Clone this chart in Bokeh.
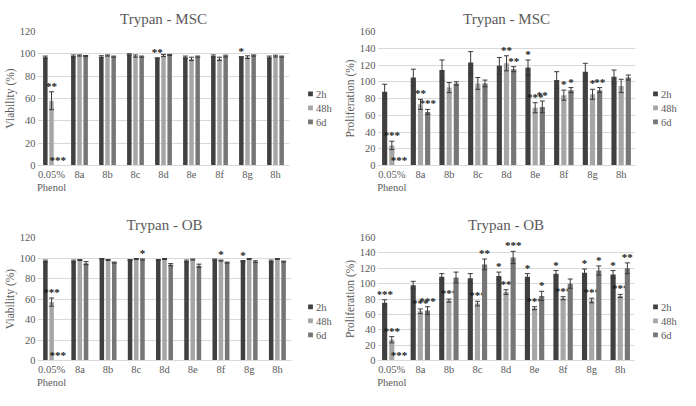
from bokeh.plotting import figure
from bokeh.models import (ColumnDataSource, FactorRange, Range1d, Whisker, TeeHead,
                          Legend, LegendItem, SingleIntervalTicker, Spacer)
from bokeh.transform import dodge
from bokeh.layouts import column, row
from bokeh.embed import file_html
from bokeh.resources import INLINE
from bokeh.core.properties import value

categories = ["0.05%\nPhenol", "8a", "8b", "8c", "8d", "8e", "8f", "8g", "8h"]
series = ["2h", "48h", "6d"]
colors = ["#404040", "#a6a6a6", "#767676"]

# Trypan - MSC, viability (%)
msc_via_2h = [97, 98, 97.5, 99.5, 96, 97, 98, 97, 97]
msc_via_48h = [58, 98.5, 98.5, 98, 98.5, 95.5, 95.5, 97, 98]
msc_via_6d = [0, 98, 97.5, 97.5, 99, 97.5, 98, 98.5, 97.5]
msc_via_2h_err = [1, 1, 0.8, 0.5, 0.5, 1, 1, 0.5, 1]
msc_via_48h_err = [8, 0.5, 0.5, 1, 1, 1.5, 1.5, 1.2, 0.8]
msc_via_6d_err = [0, 0.5, 0.5, 0.5, 0.5, 0.5, 0.8, 0.5, 0.5]
msc_via_2h_sig = ["", "", "", "", "**", "", "", "*", ""]
msc_via_48h_sig = ["**", "", "", "", "", "", "", "", ""]
msc_via_6d_sig = ["***", "", "", "", "", "", "", "", ""]

# Trypan - MSC, proliferation (%)
msc_pro_2h = [88, 105, 114, 123, 119, 117, 102, 112, 106]
msc_pro_48h = [24, 73, 93, 98, 122, 69, 84, 85, 95]
msc_pro_6d = [0, 64, 98, 98, 115, 70, 90, 90, 105]
msc_pro_2h_err = [9, 10, 12, 13, 10, 9, 10, 10, 8]
msc_pro_48h_err = [5, 6, 6, 7, 9, 6, 6, 6, 8]
msc_pro_6d_err = [0, 3, 2, 4, 3, 7, 3, 3, 3]
msc_pro_2h_sig = ["", "", "", "", "", "*", "", "", ""]
msc_pro_48h_sig = ["***", "**", "", "", "**", "***", "*", "*", ""]
msc_pro_6d_sig = ["***", "***", "", "", "**", "**", "*", "**", ""]

# Trypan - OB, viability (%)
ob_via_2h = [97, 97, 99, 98, 98, 97, 98.5, 97, 97]
ob_via_48h = [57, 98, 98, 99, 99, 98.5, 97.5, 99, 99]
ob_via_6d = [0, 95, 95.5, 98.5, 93.5, 92.5, 95.5, 96.5, 96.5]
ob_via_2h_err = [1, 1, 0.5, 0.5, 0.5, 1, 0.5, 0.5, 1]
ob_via_48h_err = [4, 0.5, 0.5, 0.5, 0.5, 0.5, 0.5, 0.5, 0.5]
ob_via_6d_err = [0, 1.5, 0.5, 0.5, 1, 1.5, 0.5, 0.8, 0.5]
ob_via_2h_sig = ["", "", "", "", "", "", "", "*", ""]
ob_via_48h_sig = ["***", "", "", "", "", "", "*", "", ""]
ob_via_6d_sig = ["***", "", "", "*", "", "", "", "", ""]

# Trypan - OB, proliferation (%)
ob_pro_2h = [75, 98, 109, 107, 110, 109, 113, 114, 112]
ob_pro_48h = [27, 64, 78, 74, 89, 68, 81, 78, 84]
ob_pro_6d = [0, 65, 108, 125, 134, 84, 100, 117, 120]
ob_pro_2h_err = [4, 5, 4, 6, 5, 4, 4, 5, 5]
ob_pro_48h_err = [4, 3, 2, 3, 3, 2, 2, 3, 2]
ob_pro_6d_err = [0, 5, 7, 7, 8, 6, 6, 6, 7]
ob_pro_2h_sig = ["***", "", "", "", "*", "*", "*", "*", "*"]
ob_pro_48h_sig = ["***", "***", "***", "***", "**", "***", "***", "***", "***"]
ob_pro_6d_sig = ["***", "***", "", "**", "***", "*", "", "*", "**"]

FONT = "Liberation Serif"
GREY = "#595959"


def panel(title, ylabel, ymax, vals, errs, sigs, width, height,
          bl, br, bt, bb, bw, off):
    p = figure(x_range=FactorRange(factors=categories), y_range=Range1d(0, ymax),
               width=width, height=height, output_backend="svg",
               toolbar_location=None, min_border_left=bl, min_border_right=br,
               min_border_top=bt, min_border_bottom=bb)
    p.title.text = title
    p.title.align = "center"
    p.title.text_font = FONT
    p.title.text_font_size = "15px"
    p.title.text_font_style = "normal"
    p.title.text_color = GREY
    p.title.standoff = 10
    p.outline_line_color = None
    p.xgrid.grid_line_color = None
    p.ygrid.grid_line_color = "#d9d9d9"
    p.yaxis.ticker = SingleIntervalTicker(interval=20)
    p.yaxis.axis_label = ylabel
    p.yaxis.axis_label_text_font = FONT
    p.yaxis.axis_label_text_font_size = "11.5px"
    p.yaxis.axis_label_text_font_style = "normal"
    p.yaxis.axis_label_text_color = GREY
    p.yaxis.axis_label_standoff = 1
    p.yaxis.axis_line_color = None
    for ax in (p.xaxis, p.yaxis):
        ax.major_tick_line_color = None
        ax.minor_tick_line_color = None
        ax.major_tick_out = 0
        ax.major_tick_in = 0
        ax.minor_tick_out = 0
        ax.minor_tick_in = 0
        ax.major_label_text_font = FONT
        ax.major_label_text_font_size = "10.5px"
        ax.major_label_text_color = GREY
        ax.major_label_standoff = 2
    p.xaxis.axis_line_color = "#d9d9d9"
    p.xaxis.major_label_standoff = 3

    offsets = [-off, 0, off]
    for k in range(3):
        v, e, s = vals[k], errs[k], sigs[k]
        src = ColumnDataSource(dict(cat=categories, val=v,
                                    top=[a + b for a, b in zip(v, e)],
                                    sig=s))
        p.vbar(x=dodge("cat", offsets[k], range=p.x_range), top="val",
               width=bw, source=src, fill_color=colors[k], line_color=None)
        idx = [i for i in range(len(categories)) if e[i] > 0]
        wsrc = ColumnDataSource(dict(cat=[categories[i] for i in idx],
                                     upper=[v[i] + e[i] for i in idx],
                                     lower=[v[i] - e[i] for i in idx]))
        w = Whisker(source=wsrc, base=dodge("cat", offsets[k], range=p.x_range),
                    upper="upper", lower="lower", line_color="#3a3a3a",
                    line_width=1, level="overlay",
                    upper_head=TeeHead(size=5, line_color="#3a3a3a", line_width=1),
                    lower_head=TeeHead(size=5, line_color="#3a3a3a", line_width=1))
        p.add_layout(w)
        p.text(x=dodge("cat", offsets[k], range=p.x_range), y="top", text="sig",
               source=src, text_align="center", text_baseline="bottom",
               text_font=value(FONT), text_font_size="11px",
               text_font_style="bold", text_color="#1a1a1a")
    return p


def legend_col(width, height, shift):
    q = figure(width=width, height=height - shift, output_backend="svg",
               toolbar_location=None, x_axis_type=None, y_axis_type=None,
               x_range=Range1d(0, 1), y_range=Range1d(0, 1),
               min_border_left=0, min_border_right=0, min_border_top=0,
               min_border_bottom=0)
    q.outline_line_color = None
    q.grid.grid_line_color = None
    items = []
    for k in range(3):
        # legend proxy: one bar kept outside the visible range
        r = q.vbar(x=[5], top=[5], bottom=[4], width=0.1,
                   fill_color=colors[k], line_color=None)
        items.append(LegendItem(label=series[k], renderers=[r]))
    leg = Legend(items=items, location="left", border_line_color=None,
                 background_fill_alpha=0, label_text_font=FONT,
                 label_text_font_size="10.5px", label_text_color=GREY,
                 glyph_width=6, glyph_height=6, label_height=9, spacing=3,
                 label_standoff=3, padding=2, margin=12)
    q.add_layout(leg)
    return column(Spacer(width=width, height=shift), q)


pA = panel("Trypan - MSC", "Viability (%)", 120,
           [msc_via_2h, msc_via_48h, msc_via_6d],
           [msc_via_2h_err, msc_via_48h_err, msc_via_6d_err],
           [msc_via_2h_sig, msc_via_48h_sig, msc_via_6d_sig],
           295, 195, 26, 6, 31, 26, 0.16, 0.22)
lA = legend_col(45, 195, 20)
pB = panel("Trypan - MSC", "Proliferation (%)", 160,
           [msc_pro_2h, msc_pro_48h, msc_pro_6d],
           [msc_pro_2h_err, msc_pro_48h_err, msc_pro_6d_err],
           [msc_pro_2h_sig, msc_pro_48h_sig, msc_pro_6d_sig],
           300, 195, 30, 5, 31, 26, 0.18, 0.25)
lB = legend_col(40, 195, 20)
pC = panel("Trypan - OB", "Viability (%)", 120,
           [ob_via_2h, ob_via_48h, ob_via_6d],
           [ob_via_2h_err, ob_via_48h_err, ob_via_6d_err],
           [ob_via_2h_sig, ob_via_48h_sig, ob_via_6d_sig],
           295, 195, 26, 4, 42, 24, 0.16, 0.22)
lC = legend_col(45, 195, 56)
pD = panel("Trypan - OB", "Proliferation (%)", 160,
           [ob_pro_2h, ob_pro_48h, ob_pro_6d],
           [ob_pro_2h_err, ob_pro_48h_err, ob_pro_6d_err],
           [ob_pro_2h_sig, ob_pro_48h_sig, ob_pro_6d_sig],
           300, 195, 30, 6, 42, 24, 0.18, 0.25)
lD = legend_col(40, 195, 56)

layout = column(row(pA, lA, pB, lB), row(pC, lC, pD, lD))
open("out.html", "w").write(file_html(layout, INLINE))
